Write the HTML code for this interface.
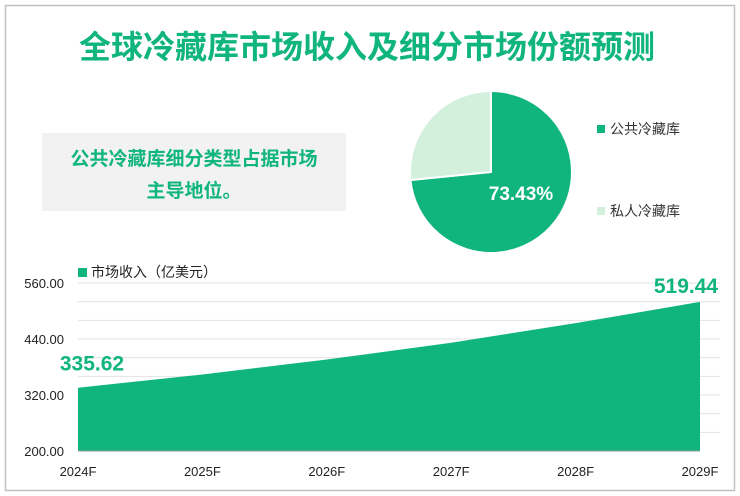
<!DOCTYPE html>
<html><head><meta charset="utf-8"><style>
body{margin:0;width:740px;height:496px;background:#fff;overflow:hidden;font-family:"Liberation Sans","Noto Sans CJK SC",sans-serif}
</style></head><body>
<svg width="740" height="496" style="position:absolute;left:0;top:0">
<rect x="5.5" y="5.5" width="729" height="485" fill="none" stroke="#bfbfbf" stroke-width="1.5"/>
<text x="367" y="58" text-anchor="middle" font-size="32" font-weight="bold" fill="#10b57d">全球冷藏库市场收入及细分市场份额预测</text>
<rect x="42" y="133" width="304" height="78" fill="#f2f2f2"/>
<text x="194" y="165" text-anchor="middle" font-size="19" font-weight="bold" fill="#10b57d">公共冷藏库细分类型占据市场</text>
<text x="194" y="197" text-anchor="middle" font-size="19" font-weight="bold" fill="#10b57d">主导地位。</text>
<g id="pie"></g>
<rect x="597" y="125" width="8" height="8" fill="#10b57d"/>
<text x="610" y="134" font-size="14" fill="#333">公共冷藏库</text>
<rect x="597" y="207" width="8" height="8" fill="#d3f0dd"/>
<text x="610" y="216" font-size="14" fill="#333">私人冷藏库</text>
<g id="area"></g>
<rect x="78" y="268" width="9" height="9" fill="#10b57d"/>
<text x="91" y="277" font-size="14" fill="#222">市场收入（亿美元）</text>
</svg>
<script>
const shareLabels=['公共冷藏库','私人冷藏库'];
const shareValues=[73.43,26.57];
const years=['2024F','2025F','2026F','2027F','2028F','2029F'];
const revenue=[335.62,364,396,432,474,519.44];
const yTicks=[200,320,440,560];
const NS='http://www.w3.org/2000/svg';
function mk(t,a,p){const e=document.createElementNS(NS,t);for(const k in a)e.setAttribute(k,a[k]);p.appendChild(e);return e;}
// pie
const pg=document.getElementById('pie');const cx=491,cy=172,r=81;
let ang=0;const cols=['#10b57d','#d3f0dd'];
shareValues.forEach((v,i)=>{const tot=shareValues.reduce((a,b)=>a+b,0);const a0=ang,a1=ang+v/tot*2*Math.PI;ang=a1;
const x0=cx+r*Math.sin(a0),y0=cy-r*Math.cos(a0),x1=cx+r*Math.sin(a1),y1=cy-r*Math.cos(a1);
const p=mk('path',{d:`M${cx},${cy}L${x0},${y0}A${r},${r} 0 ${a1-a0>Math.PI?1:0} 1 ${x1},${y1}Z`,fill:cols[i],stroke:'#fff','stroke-width':2},pg);

});
const pl=mk('text',{x:521,y:200,'text-anchor':'middle','font-size':19,'font-weight':'bold',fill:'#fff'},pg);pl.textContent=shareValues[0].toFixed(2)+'%';


// area
const ag=document.getElementById('area');const x0=78,x1=700,yb=451,yt=283,ymin=200,ymax=560;
const X=i=>x0+i*(x1-x0)/(years.length-1);const Y=v=>yb-(v-ymin)/(ymax-ymin)*(yb-yt);
for(let v=ymin+40;v<=ymax;v+=40){const l=mk('line',{x1:x0,x2:x1+20,y1:Y(v),y2:Y(v),stroke:'#e3e3e3'},ag);

}
yTicks.forEach(v=>{const t=mk('text',{x:64,y:Y(v)+5,'text-anchor':'end','font-size':13,fill:'#222'},ag);t.textContent=v.toFixed(2);

});
let d=`M${X(0)},${yb}`;revenue.forEach((v,i)=>d+=`L${X(i)},${Y(v)}`);d+=`L${X(revenue.length-1)},${yb}Z`;
const ar=mk('path',{d:d,fill:'#10b57d'},ag);


const bl=mk('line',{x1:x0,x2:x1,y1:yb,y2:yb,stroke:'#999'},ag);


years.forEach((y,i)=>{const t=mk('text',{x:X(i),y:476,'text-anchor':'middle','font-size':13,fill:'#222'},ag);t.textContent=y;

});
const la=mk('text',{x:X(0)+14,y:Y(revenue[0])-17,'text-anchor':'middle','font-size':21,'font-weight':'bold',fill:'#10b57d'},ag);la.textContent=revenue[0].toFixed(2);


const lb=mk('text',{x:X(5)-14,y:Y(revenue[5])-9,'text-anchor':'middle','font-size':21,'font-weight':'bold',fill:'#10b57d'},ag);lb.textContent=revenue[5].toFixed(2);


</script>
</body></html>
